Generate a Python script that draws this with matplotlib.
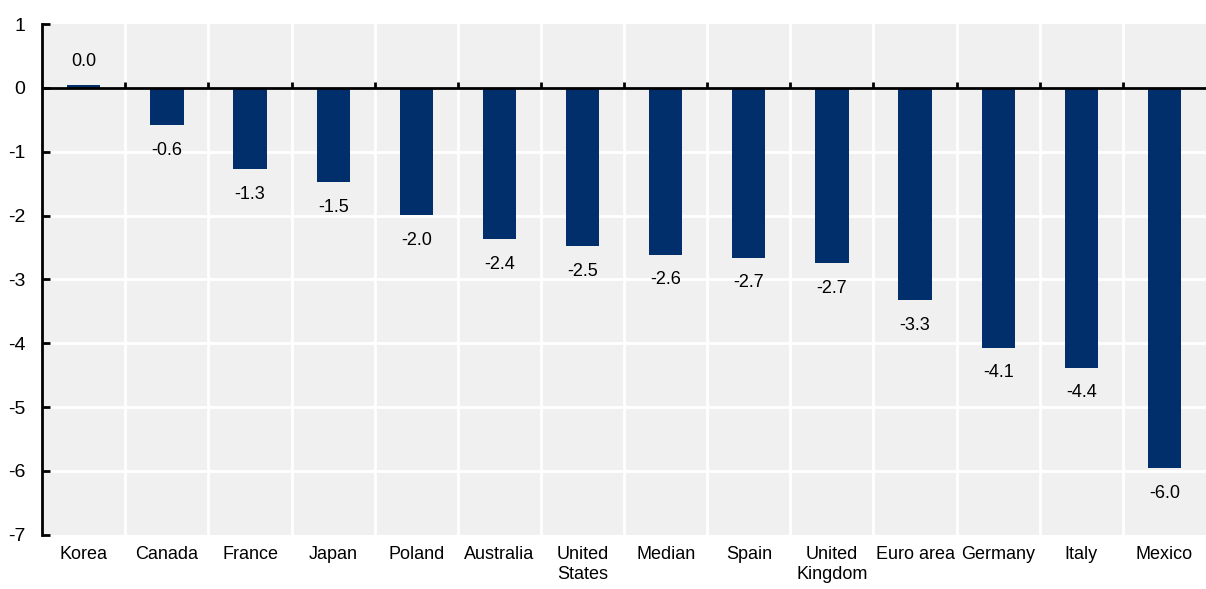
import numpy as np
import matplotlib.pyplot as plt
from matplotlib import font_manager

names = {f.name for f in font_manager.fontManager.ttflist}
fam = 'Liberation Sans Narrow' if 'Liberation Sans Narrow' in names else 'Liberation Sans'
plt.rcParams['font.family'] = [fam, 'DejaVu Sans']
plt.rcParams['axes.unicode_minus'] = False

countries = ['Korea', 'Canada', 'France', 'Japan', 'Poland', 'Australia', 'United\nStates',
             'Median', 'Spain', 'United\nKingdom', 'Euro area', 'Germany', 'Italy', 'Mexico']
values = [0.04, -0.58, -1.27, -1.48, -1.99, -2.37, -2.48,
          -2.61, -2.66, -2.74, -3.32, -4.07, -4.38, -5.96]

bar_color = '#002F6C'
bg_color = '#F0F0F0'

fig = plt.figure(figsize=(12.06, 5.89), dpi=100)
ax = fig.add_axes([0.035, 0.092, 0.965, 0.867])
ax.set_facecolor(bg_color)

x = np.arange(len(countries))
ax.bar(x, values, width=0.4, color=bar_color, zorder=3)

# value labels
for xi, v in zip(x, values):
    if v >= 0:
        ax.annotate(f'{v:.1f}', (xi, v), xytext=(0, 11), textcoords='offset points',
                    ha='center', va='bottom', fontsize=13)
    else:
        ax.annotate(f'{v:.1f}', (xi, v), xytext=(0, -12), textcoords='offset points',
                    ha='center', va='top', fontsize=13)

ax.set_xlim(-0.5, len(countries) - 0.5)
ax.set_ylim(-7, 1)
ax.set_yticks(range(-7, 2))
ax.set_xticks(x)
ax.set_xticklabels(countries, fontsize=13, va='top')
ax.tick_params(axis='x', length=0, pad=8)
ax.tick_params(axis='y', direction='in', length=6, width=2, labelsize=14, pad=12)

# grid: horizontal at integers, vertical at category boundaries
for yv in range(-6, 1):
    ax.axhline(yv, color='white', lw=2, zorder=1)
bounds = np.arange(0.5, len(countries) - 0.5)
for b in bounds:
    ax.axvline(b, color='white', lw=2, zorder=1)

ax.axhline(0, color='black', lw=2, zorder=4)
ax.vlines(bounds, 0, 0.1, color='black', lw=2, zorder=4)

for s in ['top', 'right', 'bottom']:
    ax.spines[s].set_visible(False)
ax.spines['left'].set_linewidth(2)

plt.savefig('out.png', dpi=100)
